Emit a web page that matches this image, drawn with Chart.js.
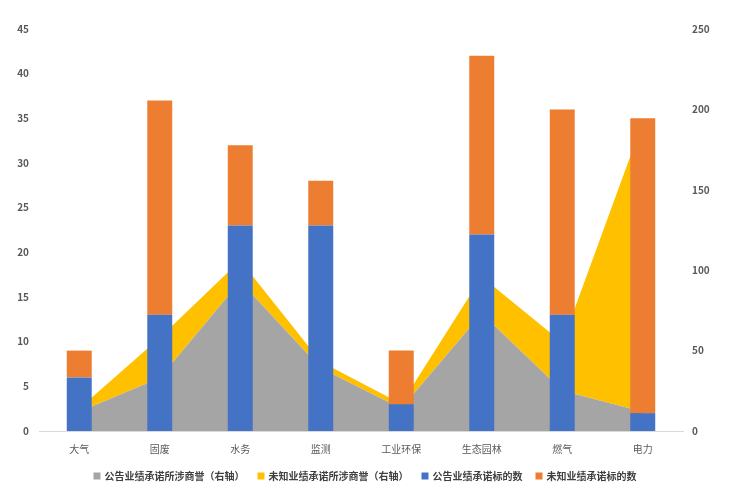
<!DOCTYPE html>
<html>
<head>
<meta charset="utf-8">
<script src="https://cdn.jsdelivr.net/npm/chart.js@4/dist/chart.umd.min.js"></script>
<style>
  html, body { margin: 0; padding: 0; background: #ffffff; }
  #wrap { width: 731px; height: 487px; }
</style>
</head>
<body>
<div id="wrap"><canvas id="c" width="731" height="487"></canvas></div>
<script>
// Sectors
const categories = ['大气', '固废', '水务', '监测', '工业环保', '生态园林', '燃气', '电力'];

// Goodwill involved (right axis), stacked areas
const goodwillDisclosed = [12, 33, 93, 39, 14, 73, 25, 12];
const goodwillUnknown = [2, 25, 13, 4, 3, 23, 30, 180];

// Number of targets (left axis), stacked bars
const targetsDisclosed = [6, 13, 23, 23, 3, 22, 13, 2];
const targetsUnknown = [3, 24, 9, 5, 6, 20, 23, 33];

const leftTicks = [0, 5, 10, 15, 20, 25, 30, 35, 40, 45];
const rightTicks = [0, 50, 100, 150, 200, 250];

const seriesNames = ['公告业绩承诺所涉商誉（右轴）', '未知业绩承诺所涉商誉（右轴）', '公告业绩承诺标的数', '未知业绩承诺标的数'];

const FONT = '"Noto Sans CJK SC", "Liberation Sans", sans-serif';
const TXT = '#595959';

// Keep the legend in a slim band under the axis labels
const legendBand = {
  id: 'legendBand',
  beforeInit(chart) {
    const legend = chart.legend;
    const fit = legend.fit;
    legend.fit = function () {
      fit.call(this);
      this.height = 28;
    };
  },
  afterLayout(chart) {
    const legend = chart.legend;
    legend.top -= 2;
  }
};

new Chart(document.getElementById('c'), {
  data: {
    labels: categories,
    datasets: [
      {
        type: 'line', label: seriesNames[0], data: goodwillDisclosed, yAxisID: 'y1', stack: 'area',
        backgroundColor: '#A5A5A5', borderColor: '#A5A5A5', borderWidth: 0, pointRadius: 0,
        fill: 'origin', tension: 0, order: 2
      },
      {
        type: 'line', label: seriesNames[1], data: goodwillUnknown, yAxisID: 'y1', stack: 'area',
        backgroundColor: '#FFC000', borderColor: '#FFC000', borderWidth: 0, pointRadius: 0,
        fill: '-1', tension: 0, order: 3
      },
      {
        type: 'bar', label: seriesNames[2], data: targetsDisclosed, yAxisID: 'y', stack: 'bars',
        backgroundColor: '#4472C4', barPercentage: 0.31, categoryPercentage: 1, order: 1
      },
      {
        type: 'bar', label: seriesNames[3], data: targetsUnknown, yAxisID: 'y', stack: 'bars',
        backgroundColor: '#ED7D31', barPercentage: 0.31, categoryPercentage: 1, order: 1
      }
    ]
  },
  plugins: [legendBand],
  options: {
    responsive: false,
    animation: false,
    layout: { padding: { top: 29, left: 0, right: 0, bottom: 0 } },
    plugins: {
      tooltip: { enabled: false },
      legend: {
        position: 'bottom',
        labels: {
          sort: (a, b) => a.datasetIndex - b.datasetIndex,
          usePointStyle: true,
          pointStyle: 'rect',
          boxWidth: 5,
          boxHeight: 7,
          padding: 14,
          color: '#404040',
          font: { family: FONT, size: 10, weight: 'bold' }
        }
      }
    },
    scales: {
      x: {
        stacked: true,
        offset: true,
        grid: { display: false, drawTicks: false },
        border: { display: true, color: '#D9D9D9', width: 1 },
        afterFit: (s) => { s.height = 28; },
        ticks: { color: TXT, font: { family: FONT, size: 10 }, padding: 12 }
      },
      y: {
        position: 'left',
        stacked: true,
        min: 0, max: 45,
        grid: { display: false, drawTicks: false },
        border: { display: false },
        afterBuildTicks: (s) => { s.ticks = leftTicks.map(v => ({ value: v })); },
        afterFit: (s) => { s.width = 39; },
        ticks: { color: TXT, font: { family: FONT, size: 10, weight: 'bold' }, padding: 10 }
      },
      y1: {
        position: 'right',
        stacked: true,
        min: 0, max: 250,
        grid: { display: false, drawTicks: false },
        border: { display: false },
        afterBuildTicks: (s) => { s.ticks = rightTicks.map(v => ({ value: v })); },
        afterFit: (s) => { s.width = 48; },
        ticks: { color: TXT, font: { family: FONT, size: 10, weight: 'bold' }, padding: 9 }
      }
    }
  }
});
</script>
</body>
</html>
